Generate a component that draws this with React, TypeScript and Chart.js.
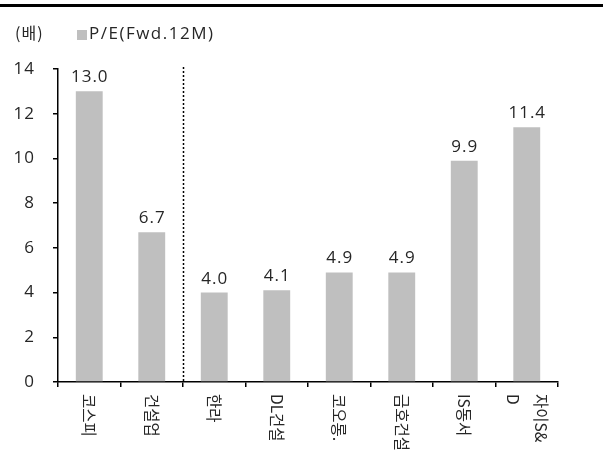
import React, { useEffect, useRef } from "react";
import { Chart, registerables } from "chart.js";

Chart.register(...registerables);

const categories: string[][] = [["코스피"], ["건설업"], ["한라"], ["DL건설"], ["코오롱."], ["금호건설"], ["IS동서"], ["자이S&", "D"]];
const peValues: number[] = [13.0, 6.7, 4.0, 4.1, 4.9, 4.9, 9.9, 11.4];
const seriesName = "P/E(Fwd.12M)";
const unitLabel = "(배)";
const yTicks: number[] = [0, 2, 4, 6, 8, 10, 12, 14];

const FONT = "'Open Sans', 'Noto Sans CJK KR', sans-serif";
const KFONT = "'Noto Sans CJK KR', sans-serif";
const TEXT = "#262626";
const BAR = "#BFBFBF";

const overlay = {
  id: "overlay",
  beforeDraw(chart: any) {
    chart.ctx.letterSpacing = "1px";
  },
  afterDraw(chart: any) {
    const ctx = chart.ctx;
    const xs = chart.scales.x;
    const area = chart.chartArea;
    ctx.save();
    // top rule
    ctx.fillStyle = "#000";
    ctx.fillRect(0, 4, 603, 3);
    // unit label & legend
    ctx.fillStyle = TEXT;
    ctx.textBaseline = "middle";
    ctx.textAlign = "left";
    ctx.letterSpacing = "1px";
    ctx.font = `16px ${KFONT}`;
    ctx.fillText(unitLabel, 15, 33);
    ctx.fillStyle = BAR;
    ctx.fillRect(77, 30, 10, 10);
    ctx.fillStyle = TEXT;
    ctx.letterSpacing = "1.5px";
    ctx.font = `17px ${FONT}`;
    ctx.fillText(seriesName, 89, 34);
    // dotted separator
    const sepX = (xs.getPixelForValue(1) + xs.getPixelForValue(2)) / 2;
    ctx.strokeStyle = "#000";
    ctx.lineWidth = 1.5;
    ctx.setLineDash([2, 2]);
    ctx.beginPath();
    ctx.moveTo(Math.round(sepX) + 0.5, area.top - 2);
    ctx.lineTo(Math.round(sepX) + 0.5, area.bottom);
    ctx.stroke();
    ctx.setLineDash([]);
    // data labels
    const meta = chart.getDatasetMeta(0);
    ctx.letterSpacing = "1px";
    ctx.font = `17px ${FONT}`;
    ctx.textAlign = "center";
    ctx.textBaseline = "alphabetic";
    ctx.fillStyle = TEXT;
    meta.data.forEach((bar: any, i: number) => {
      ctx.fillText(peValues[i].toFixed(1), bar.x + 0.5, bar.y - 9);
    });
    // rotated category labels
    ctx.letterSpacing = "0px";
    ctx.font = `15.5px ${KFONT}`;
    ctx.textAlign = "left";
    ctx.textBaseline = "middle";
    categories.forEach((lines, i) => {
      const cx = xs.getPixelForValue(i);
      const n = lines.length;
      lines.forEach((line, j) => {
        const offset = ((n - 1) / 2 - j) * 28;
        ctx.save();
        ctx.translate(cx + offset, 394);
        ctx.rotate(Math.PI / 2);
        ctx.fillText(line, 0, 0);
        ctx.restore();
      });
    });
    ctx.restore();
    ctx.letterSpacing = "0px";
  },
};

export default function App() {
  const ref = useRef<HTMLCanvasElement | null>(null);
  useEffect(() => {
    if (!ref.current) return;
    const chart = new Chart(ref.current, {
      type: "bar",
      data: {
        labels: categories.map((l) => l.join("")),
        datasets: [
          {
            label: seriesName,
            data: peValues,
            backgroundColor: BAR,
            borderWidth: 0,
            barPercentage: 0.43,
            categoryPercentage: 1,
          },
        ],
      },
      options: {
        responsive: false,
        animation: false,
        layout: { padding: { top: 69, right: 47, left: 0, bottom: 0 } },
        plugins: { legend: { display: false }, tooltip: { enabled: false } },
        scales: {
          x: {
            offset: true,
            grid: { offset: true, drawOnChartArea: false, tickLength: 5, color: "#000", lineWidth: 1.5 },
            border: { color: "#000", width: 1.5 },
            ticks: { display: false },
            afterFit(scale: any) {
              scale.height = 83;
            },
          },
          y: {
            min: 0,
            max: 14,
            afterBuildTicks(scale: any) {
              scale.ticks = yTicks.map((v) => ({ value: v }));
            },
            grid: { drawOnChartArea: false, tickLength: 5, color: "#000", lineWidth: 1.5 },
            border: { color: "#000", width: 1.5 },
            ticks: {
              padding: 18,
              color: TEXT,
              font: { family: FONT, size: 17 },
            },
            afterFit(scale: any) {
              scale.width = 58;
            },
          },
        },
      },
      plugins: [overlay],
    });
    return () => chart.destroy();
  }, []);
  return (
    <div style={{ position: "absolute", left: 0, top: 0, width: 605, height: 465, background: "#fff" }}>
      <canvas ref={ref} width={605} height={465} />
    </div>
  );
}
